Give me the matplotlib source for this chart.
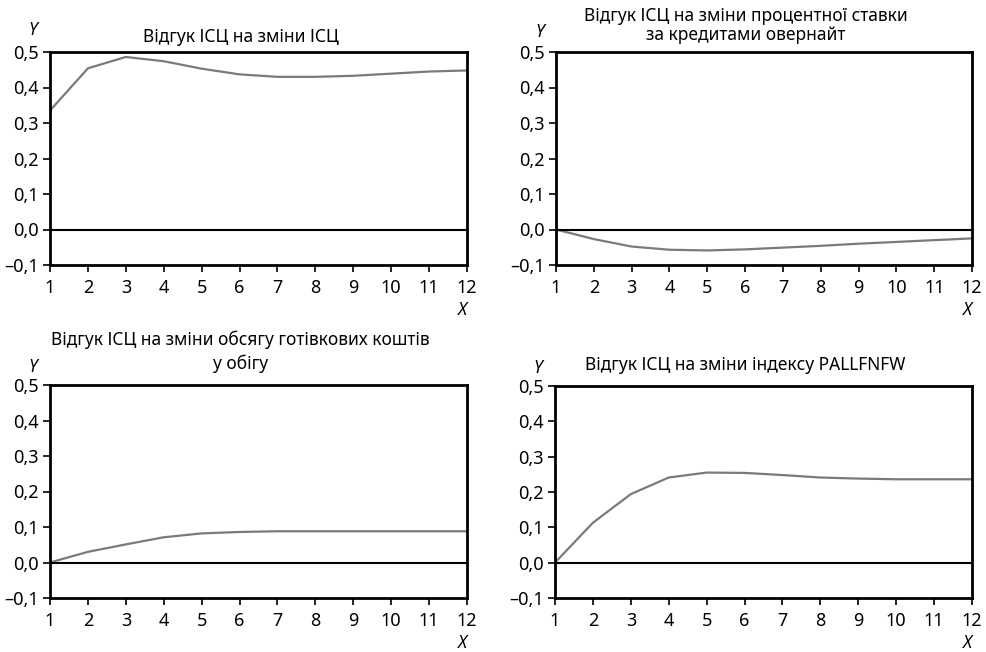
import numpy as np
import matplotlib.pyplot as plt
from matplotlib.ticker import FuncFormatter

# дані
periods = list(range(1, 13))
resp_cpi = [0.335, 0.454, 0.486, 0.474, 0.453, 0.437, 0.430, 0.430, 0.433, 0.439, 0.445, 0.448]
resp_rate = [0.0, -0.027, -0.048, -0.057, -0.059, -0.056, -0.051, -0.046, -0.040, -0.035, -0.030, -0.025]
resp_cash = [0.0, 0.030, 0.051, 0.071, 0.082, 0.086, 0.088, 0.088, 0.088, 0.088, 0.088, 0.088]
resp_pallfnfw = [0.0, 0.113, 0.194, 0.241, 0.255, 0.254, 0.248, 0.241, 0.238, 0.236, 0.236, 0.236]
titles = [
    "Відгук ІСЦ на зміни ІСЦ",
    "Відгук ІСЦ на зміни процентної ставки\nза кредитами овернайт",
    "Відгук ІСЦ на зміни обсягу готівкових коштів\nу обігу",
    "Відгук ІСЦ на зміни індексу PALLFNFW",
]
yticks = [-0.1, 0.0, 0.1, 0.2, 0.3, 0.4, 0.5]

plt.rcParams['font.family'] = ['Noto Sans', 'DejaVu Sans']
plt.rcParams['font.size'] = 13

W, H = 987, 652
fig = plt.figure(figsize=(W / 100, H / 100), dpi=100)

# положення осей у пікселях: (ліво, верх, право, низ)
boxes = [(50, 52, 467, 265), (556, 52, 972, 265),
         (50, 385, 467, 598), (555, 386, 972, 598)]
series = [resp_cpi, resp_rate, resp_cash, resp_pallfnfw]
# розміщення заголовків і підпису Y (в частках осей)
title_y = [1.047, 1.056, 1.075, 1.075]
title_ls = [1.0, 1.05, 1.35, 1.0]
ylab_y = [1.104, 1.095, 1.085, 1.085]


def fmt(v, pos):
    s = f"{abs(v):.1f}".replace('.', ',')
    return ("–" + s) if v < -1e-9 else s


for i, ((l, t, r, b), vals, title) in enumerate(zip(boxes, series, titles)):
    ax = fig.add_axes([l / W, 1 - b / H, (r - l) / W, (b - t) / H])
    ax.plot(periods, vals, color='#7a7a7a', lw=1.6)
    ax.axhline(0, color='black', lw=1.5)
    ax.set_xlim(1, 12)
    ax.set_ylim(-0.1, 0.5)
    ax.set_xticks(periods)
    ax.set_yticks(yticks)
    ax.yaxis.set_major_formatter(FuncFormatter(fmt))
    for sp in ax.spines.values():
        sp.set_linewidth(2)
    ax.tick_params(direction='out', length=5, width=1.2, pad=3, labelsize=13)
    ax.tick_params(axis='x', pad=5)
    # заголовок трохи лівіше від центру
    ax.text(0.457, title_y[i], title, transform=ax.transAxes, ha='center',
            va='baseline', fontsize=12.5, linespacing=title_ls[i])
    ax.text(-0.04, ylab_y[i], "Y", transform=ax.transAxes, ha='center', va='center',
            fontsize=12.5, style='italic')
    ax.text(0.99, -0.21, "X", transform=ax.transAxes, ha='center', va='center',
            fontsize=12.5, style='italic')

fig.savefig("out.png", dpi=100)
